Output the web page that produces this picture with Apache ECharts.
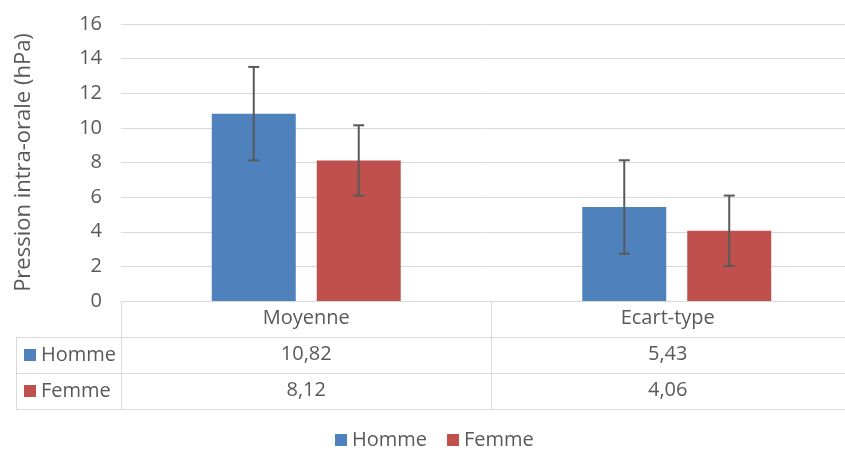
<!DOCTYPE html>
<html>
<head>
<meta charset="utf-8">
<script src="https://cdn.jsdelivr.net/npm/echarts@6/dist/echarts.min.js"></script>
<style>
html,body{margin:0;padding:0;background:#fff;}
#c{width:845px;height:450px;}
</style>
</head>
<body>
<div id="c"></div>
<script>
// ---- data ----
const categories = ['Moyenne', 'Ecart-type'];
const seriesNames = ['Homme', 'Femme'];
const hommeValues = [10.82, 5.43];
const femmeValues = [8.12, 4.06];
const hommeErr = [2.7, 2.7];
const femmeErr = [2.03, 2.03];
const yTicks = [0, 2, 4, 6, 8, 10, 12, 14, 16];

// ---- style constants ----
const FONT = 'Open Sans';
const TXT = '#595959';
const LINE = '#d9d9d9';
const COLORS = ['#4F81BD', '#C0504D'];
const FS = 20;
const CAT_GAP = 0.49, BAR_GAP = 0.25;

const fmt = v => v.toFixed(2).replace('.', ',');

function tableAxis(vals, offset, showLabel, showTick) {
  return {
    type: 'category', gridIndex: 0, position: 'bottom', offset: offset,
    data: vals,
    axisLine: {show: true, lineStyle: {color: LINE, width: 1}},
    axisTick: {show: showTick, length: 36, interval: 0, lineStyle: {color: LINE, width: 1}},
    axisLabel: {
      show: showLabel, interval: 0, margin: 7, color: TXT, fontFamily: FONT, fontSize: FS,
      formatter: (v, i) => i === 1 ? '{r|' + v + '}' : '{l|' + v + '}',
      rich: {
        l: {fontFamily: FONT, fontSize: FS, color: TXT},
        r: {fontFamily: FONT, fontSize: FS, color: TXT, padding: [0, 18, 0, 0]}
      }
    },
    splitLine: {show: false}
  };
}

function errRender(side) {
  return function (params, api) {
    const x = api.value(0);
    const lo = api.coord([x, api.value(1)]);
    const hi = api.coord([x, api.value(2)]);
    const band = api.size([1, 0])[0];
    const w = band * (1 - CAT_GAP) / (2 + BAR_GAP);
    const cx = lo[0] + (side === 0 ? -1 : 1) * w * (1 + BAR_GAP) / 2;
    const cap = 5.5;
    const st = {stroke: '#595959', lineWidth: 2};
    return {
      type: 'group',
      children: [
        {type: 'line', shape: {x1: cx, y1: lo[1], x2: cx, y2: hi[1]}, style: st},
        {type: 'line', shape: {x1: cx - cap, y1: lo[1], x2: cx + cap, y2: lo[1]}, style: st},
        {type: 'line', shape: {x1: cx - cap, y1: hi[1], x2: cx + cap, y2: hi[1]}, style: st}
      ]
    };
  };
}

const errData = (vals, errs) => vals.map((v, i) => [i, v - errs[i], v + errs[i]]);

const chart = echarts.init(document.getElementById('c'), null, {renderer: 'canvas'});

const GL = 121, GT = 24, GH = 277, GW = 741;
const rowY = [337, 373, 409];
const tableLeft = 16;

const graphics = [];
rowY.forEach(y => graphics.push({type: 'line', shape: {x1: tableLeft, y1: y + 0.5, x2: GL, y2: y + 0.5}, style: {stroke: LINE, lineWidth: 1}, silent: true}));
graphics.push({type: 'line', shape: {x1: tableLeft + 0.5, y1: rowY[0], x2: tableLeft + 0.5, y2: rowY[2]}, style: {stroke: LINE, lineWidth: 1}, silent: true});
seriesNames.forEach((n, i) => {
  const cy = (rowY[i] + rowY[i + 1]) / 2;
  graphics.push({type: 'rect', shape: {x: 24, y: cy - 6, width: 12, height: 12}, style: {fill: COLORS[i]}, silent: true});
  graphics.push({type: 'text', x: 41, y: cy, style: {text: n, fontFamily: FONT, fontSize: FS, fill: TXT, verticalAlign: 'middle', align: 'left'}, silent: true});
});

const option = {
  animation: false,
  color: COLORS,
  grid: {left: GL, top: GT, width: GW, height: GH, containLabel: false, outerBoundsMode: 'none'},
  legend: {
    data: seriesNames, left: 330, top: 425, itemWidth: 12, itemHeight: 12, itemGap: 20, icon: 'rect',
    textStyle: {fontFamily: FONT, fontSize: FS, color: TXT}
  },
  xAxis: [
    tableAxis(categories, 0, true, true),
    tableAxis(hommeValues.map(fmt), 36, true, true),
    tableAxis(femmeValues.map(fmt), 72, true, true),
    tableAxis(categories, 108, false, false)
  ],
  yAxis: {
    type: 'value', min: yTicks[0], max: yTicks[yTicks.length - 1], interval: 2,
    name: 'Pression intra-orale (hPa)', nameLocation: 'middle', nameGap: 86, nameRotate: 90,
    nameTextStyle: {fontFamily: FONT, fontSize: 22, color: TXT},
    axisLine: {show: false}, axisTick: {show: false},
    axisLabel: {margin: 19, color: TXT, fontFamily: FONT, fontSize: FS},
    splitLine: {lineStyle: {color: LINE, width: 1}}
  },
  series: [
    {name: seriesNames[0], type: 'bar', data: hommeValues, barCategoryGap: (CAT_GAP * 100) + '%', barGap: (BAR_GAP * 100) + '%', itemStyle: {color: COLORS[0]}},
    {name: seriesNames[1], type: 'bar', data: femmeValues, barCategoryGap: (CAT_GAP * 100) + '%', barGap: (BAR_GAP * 100) + '%', itemStyle: {color: COLORS[1]}},
    {name: 'err0', type: 'custom', renderItem: errRender(0), data: errData(hommeValues, hommeErr), encode: {x: 0, y: [1, 2]}, z: 5, silent: true},
    {name: 'err1', type: 'custom', renderItem: errRender(1), data: errData(femmeValues, femmeErr), encode: {x: 0, y: [1, 2]}, z: 5, silent: true}
  ],
  graphic: graphics
};
chart.setOption(option);
</script>
</body>
</html>
